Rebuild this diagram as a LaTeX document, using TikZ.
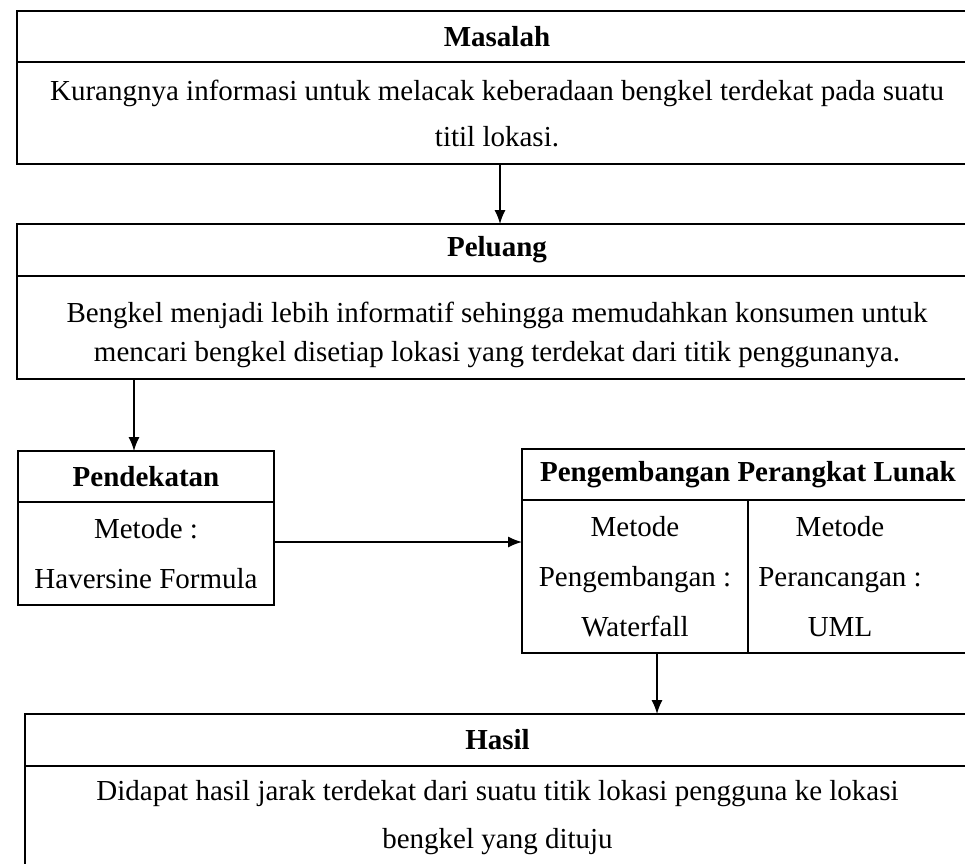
\documentclass[tikz,border=0pt]{standalone}
\usepackage{fontspec}
\setmainfont{Liberation Serif}
\usetikzlibrary{positioning,arrows.meta}

\tikzset{
  kotak/.style={draw, line width=1.8pt, outer sep=0pt, inner sep=0pt, align=center, font=\fontsize{29}{46}\selectfont},
  judul/.style={kotak, font=\fontsize{29}{34}\selectfont\bfseries},
  panah/.style={-{Latex[length=14pt,width=11pt]}, line width=1.4pt},
}

\begin{document}
\begin{tikzpicture}[x=1pt,y=-1pt]
  \useasboundingbox (0,0) rectangle (965,863);
  \clip (0,0) rectangle (965,863);
  % masalah
  \node[judul, minimum width=960pt, minimum height=51pt] (masalah) at (497,36.5) {Masalah};
  \node[kotak, minimum width=960pt, minimum height=102pt, below=0pt of masalah] (masalahIsi) {Kurangnya informasi untuk melacak keberadaan bengkel terdekat pada suatu\\titil lokasi.};
  % peluang
  \node[judul, minimum width=960pt, minimum height=52pt] (peluang) at (497,250) {Peluang};
  \node[kotak, minimum width=960pt, minimum height=103pt, below=0pt of peluang, font=\fontsize{29}{39}\selectfont] (peluangIsi) {\rule{0pt}{36pt}Bengkel menjadi lebih informatif sehingga memudahkan konsumen untuk\\mencari bengkel disetiap lokasi yang terdekat dari titik penggunanya.};
  % pendekatan
  \node[judul, minimum width=256pt, minimum height=51pt] (pendekatan) at (146,476.5) {Pendekatan};
  \node[kotak, minimum width=256pt, minimum height=103pt, below=0pt of pendekatan, font=\fontsize{29}{50}\selectfont] (pendekatanIsi) {Metode :\\Haversine Formula};
  % pengembangan perangkat lunak
  \node[judul, minimum width=452pt, minimum height=51pt] (ppl) at (748,474.5) {Pengembangan Perangkat Lunak};
  \node[kotak, minimum width=226pt, minimum height=153pt, anchor=north west, font=\fontsize{29}{50}\selectfont] (metodeKembang) at (ppl.south west) {Metode\\Pengembangan :\\Waterfall};
  \node[kotak, minimum width=226pt, minimum height=153pt, anchor=north west] (metodeRancang) at (metodeKembang.north east) {};
  \node[align=center, inner sep=0pt, font=\fontsize{29}{50}\selectfont] (metodeRancangTeks) at ([xshift=-21pt]metodeRancang.center) {Metode\\Perancangan :\\UML};
  % hasil
  \node[judul, minimum width=945pt, minimum height=52pt] (hasil) at (497.5,740) {Hasil};
  \node[kotak, minimum width=945pt, minimum height=104pt, below=0pt of hasil, font=\fontsize{29}{48}\selectfont] (hasilIsi) {Didapat hasil jarak terdekat dari suatu titik lokasi pengguna ke lokasi\\bengkel yang dituju};
  % panah
  \draw[panah] ([xshift=3pt]masalahIsi.south) -- ([xshift=3pt]peluang.north);
  \draw[panah] ([xshift=-12pt]pendekatan.north |- peluangIsi.south) -- ([xshift=-12pt]pendekatan.north);
  \draw[panah] ([yshift=11.5pt]pendekatanIsi.east) -- ([yshift=11.5pt]pendekatanIsi.east -| metodeKembang.west);
  \draw[panah] ([xshift=22pt]metodeKembang.south) -- ([xshift=22pt]metodeKembang.south |- hasil.north);
\end{tikzpicture}
\end{document}
